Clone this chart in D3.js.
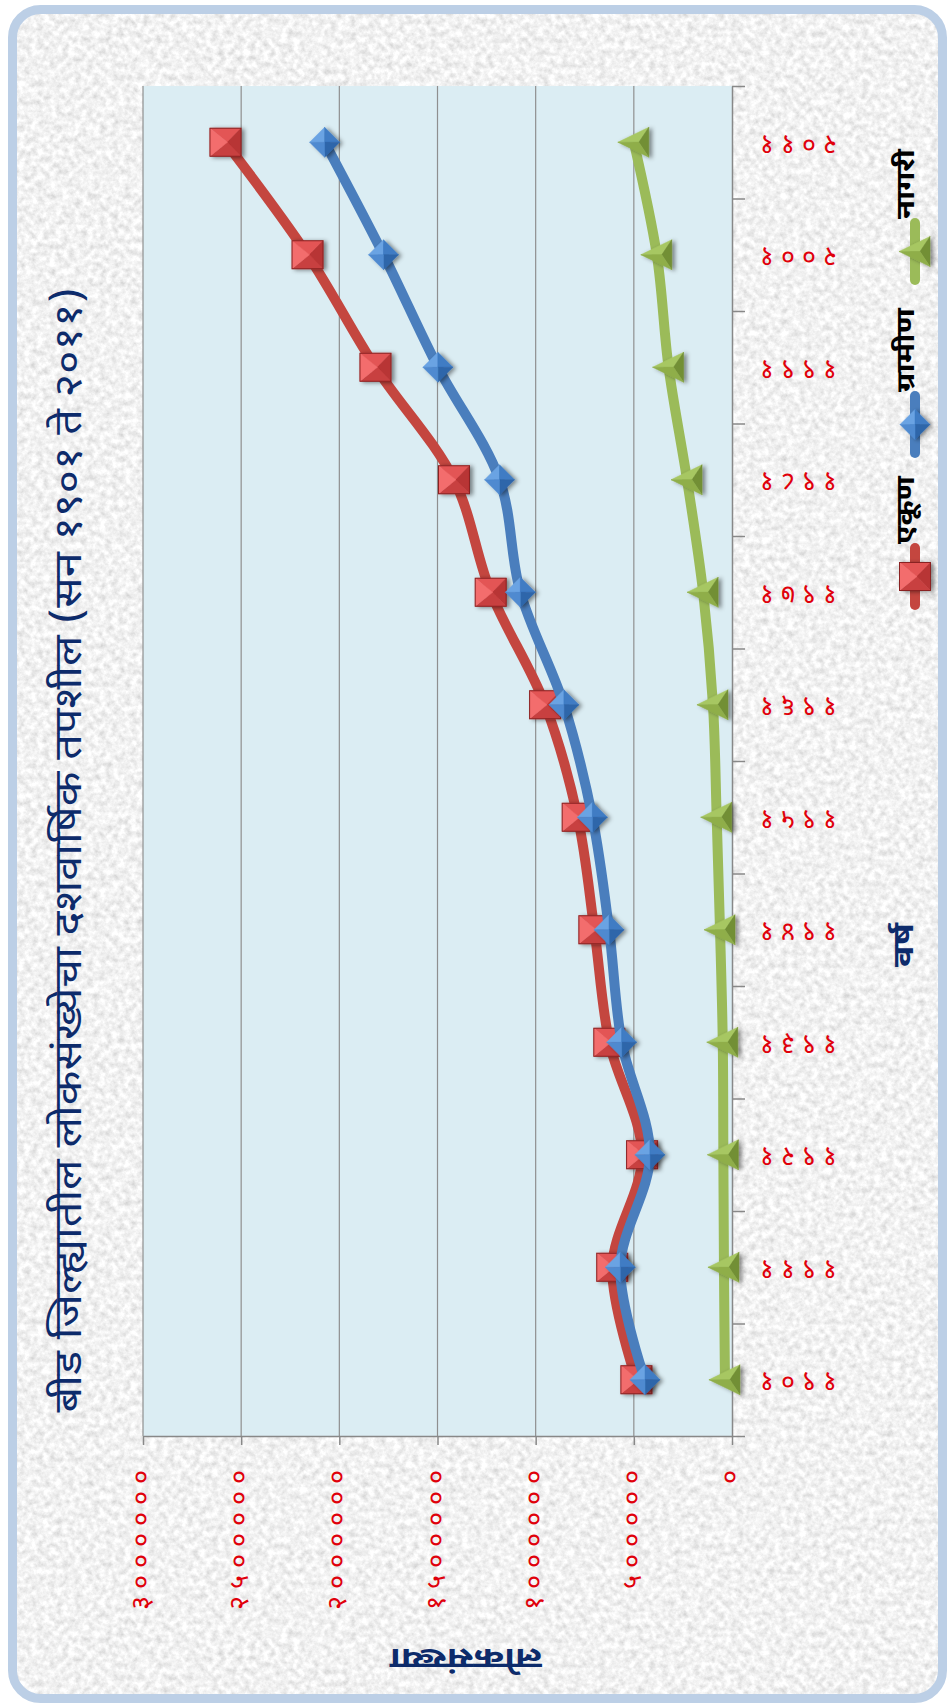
<!DOCTYPE html>
<html>
<head>
<meta charset="utf-8">
<script src="https://cdn.jsdelivr.net/npm/d3@7"></script>
<style>
  body { margin: 0; background: #fff; }
  svg { display: block; }
  text { font-family: "Noto Sans Devanagari", "Lohit Devanagari", "Mangal", "FreeSans", "Noto Sans", sans-serif; }
</style>
</head>
<body>
<div id="chart"></div>
<script>
// census years (Devanagari digits), bottom to top in the picture
const years = ["१९०१", "१९११", "१९२१", "१९३१", "१९४१", "१९५१", "१९६१", "१९७१", "१९८१", "१९९१", "२००१", "२०११"];
// population series
const total = [487000, 610000, 458000, 625000, 701000, 786000, 952000, 1229000, 1416000, 1816000, 2162000, 2580000];
const rural = [443000, 569000, 418000, 562000, 626000, 711000, 856000, 1078000, 1184000, 1498000, 1775000, 2075000];
const urban = [36000, 41000, 44000, 47000, 61000, 78000, 97000, 147000, 229000, 323000, 383000, 500000];
const seriesNames = ["एकूण", "ग्रामीण", "नागरी"];
const valueTicks = [0, 500000, 1000000, 1500000, 2000000, 2500000, 3000000];
const tickLabels = ["०", "५०००००", "१००००००", "१५०००००", "२००००००", "२५०००००", "३००००००"];

const W = 949, H = 1704;
// the chart is turned a quarter turn: values run right to left, years bottom to top
const plot = { left: 143, right: 732, top: 86, bottom: 1436 };
const digitStep = 21; // spaced-out digits in the tick labels

const svg = d3.select("#chart").append("svg")
  .attr("width", W)
  .attr("height", H);

const defs = svg.append("defs");

// grey stone texture for the chart area
const granite = defs.append("filter").attr("id", "granite")
  .attr("x", 0).attr("y", 0).attr("width", 1).attr("height", 1);
granite.append("feTurbulence")
  .attr("type", "fractalNoise")
  .attr("baseFrequency", 0.16)
  .attr("numOctaves", 4)
  .attr("seed", 7)
  .attr("result", "noise");
granite.append("feColorMatrix")
  .attr("in", "noise")
  .attr("type", "matrix")
  .attr("values", "0.55 0 0 0 0.61  0.55 0 0 0 0.61  0.55 0 0 0 0.61  0 0 0 0 1")
  .attr("result", "grey");
granite.append("feComposite")
  .attr("in", "grey").attr("in2", "SourceGraphic").attr("operator", "in");

const shadow = defs.append("filter").attr("id", "shadow")
  .attr("x", -0.5).attr("y", -0.5).attr("width", 2).attr("height", 2);
shadow.append("feDropShadow")
  .attr("dx", 3).attr("dy", 1).attr("stdDeviation", 2)
  .attr("flood-color", "#000").attr("flood-opacity", 0.45);

// background and frame
svg.append("rect")
  .attr("x", 12.5).attr("y", 9.5)
  .attr("width", 930).attr("height", 1689)
  .attr("rx", 28)
  .attr("fill", "#ddd")
  .attr("filter", "url(#granite)");
svg.append("rect")
  .attr("x", 12.5).attr("y", 9.5)
  .attr("width", 930).attr("height", 1689)
  .attr("rx", 28)
  .attr("fill", "none")
  .attr("stroke", "#bccfe6")
  .attr("stroke-width", 9);

// plot area
svg.append("rect")
  .attr("x", plot.left).attr("y", plot.top)
  .attr("width", plot.right - plot.left)
  .attr("height", plot.bottom - plot.top)
  .attr("fill", "#dbedf3");

// scales
const x = d3.scaleLinear()
  .domain([0, 3000000])
  .range([plot.right, plot.left]);

const y = d3.scaleBand()
  .domain(years)
  .range([plot.bottom, plot.top]);

const yMid = d => y(d) + y.bandwidth() / 2;

// gridlines
svg.append("g")
  .selectAll("line")
  .data(valueTicks.filter(d => d > 0))
  .enter().append("line")
  .attr("x1", d => x(d)).attr("x2", d => x(d))
  .attr("y1", plot.top).attr("y2", plot.bottom)
  .attr("stroke", "#8f8f8f")
  .attr("stroke-width", 1.2);

// space digits so every character takes digitStep px; returns the trailing gap
function spaceDigits(t) {
  const n = t.text().length;
  t.attr("letter-spacing", 0);
  const len = t.node().getComputedTextLength();
  const s = Math.max(0, (digitStep * n - len) / n);
  t.attr("letter-spacing", s);
  return s;
}

// value axis along the bottom
const xAxis = svg.append("g")
  .attr("transform", `translate(0,${plot.bottom})`)
  .call(d3.axisBottom(x)
    .tickValues(valueTicks)
    .tickSize(9)
    .tickSizeOuter(0)
    .tickFormat((d, i) => tickLabels[i]));
xAxis.select(".domain").attr("stroke", "#888").attr("stroke-width", 1.5);
xAxis.selectAll(".tick line").attr("stroke", "#888").attr("stroke-width", 1.5);
xAxis.selectAll(".tick text")
  .attr("x", 0).attr("y", 0).attr("dy", null)
  .attr("text-anchor", "end")
  .attr("dominant-baseline", "central")
  .attr("fill", "#e0000b")
  .attr("font-size", 27)
  .each(function () {
    const t = d3.select(this);
    const s = spaceDigits(t);
    t.attr("transform", `translate(0,${34 - s}) rotate(-90)`);
  });

// category axis along the right edge, ticks between the bands
const edges = d3.scaleLinear().domain([0, years.length]).range([plot.bottom, plot.top]);
const yTicks = svg.append("g")
  .attr("transform", `translate(${plot.right},0)`)
  .call(d3.axisRight(edges).ticks(years.length).tickSize(13).tickSizeOuter(0).tickFormat(""));
yTicks.select(".domain").attr("stroke", "#888").attr("stroke-width", 1.5);
yTicks.selectAll(".tick line").attr("stroke", "#888").attr("stroke-width", 1.5);

const yAxis = svg.append("g")
  .attr("transform", `translate(${plot.right},0)`)
  .call(d3.axisRight(y).tickSize(0));
yAxis.select(".domain").remove();
yAxis.selectAll(".tick text")
  .attr("x", 0).attr("dy", null)
  .attr("text-anchor", "end")
  .attr("dominant-baseline", "central")
  .attr("fill", "#e0000b")
  .attr("font-size", 27)
  .each(function () {
    const t = d3.select(this);
    const s = spaceDigits(t);
    t.attr("transform", `translate(${28 - s},0) rotate(180)`);
  });

// marker shapes made of shaded faces so they look bevelled
function squareFaces(cx, cy) {
  const a = 15.5, b = 14;
  const tl = [cx - a, cy - b], tr = [cx + a, cy - b], br = [cx + a, cy + b], bl = [cx - a, cy + b], c = [cx + 2, cy];
  return [
    { p: [tl, tr, c], f: "#e35555" },
    { p: [tr, br, c], f: "#b83434" },
    { p: [br, bl, c], f: "#c84040" },
    { p: [bl, tl, c], f: "#f36d6d" }
  ];
}
function diamondFaces(cx, cy) {
  const r = 15;
  const t = [cx, cy - r], rt = [cx + r, cy], b = [cx, cy + r], l = [cx - r, cy], c = [cx, cy];
  return [
    { p: [l, t, c], f: "#6aa3e3" },
    { p: [t, rt, c], f: "#3f7cc4" },
    { p: [rt, b, c], f: "#2e66aa" },
    { p: [b, l, c], f: "#4f8ad0" }
  ];
}
function triangleFaces(cx, cy) {
  const tip = [cx - 16, cy], tr = [cx + 15, cy - 15], br = [cx + 15, cy + 15], c = [cx + 5, cy];
  return [
    { p: [tip, tr, c], f: "#a7c762" },
    { p: [tr, br, c], f: "#728f34" },
    { p: [br, tip, c], f: "#8fae4a" }
  ];
}

const series = [
  { name: seriesNames[0], values: total, color: "#c4463f", edge: "#8a2323", faces: squareFaces },
  { name: seriesNames[1], values: rural, color: "#4a7ebd", edge: null, faces: diamondFaces },
  { name: seriesNames[2], values: urban, color: "#9bbb59", edge: null, faces: triangleFaces }
];

const line = d3.line()
  .x(d => x(d.v))
  .y(d => yMid(d.year))
  .curve(d3.curveCatmullRom.alpha(0.5));

function drawMarker(g, s, cx, cy) {
  const m = g.append("g").attr("filter", "url(#shadow)");
  m.selectAll("path")
    .data(s.faces(cx, cy))
    .enter().append("path")
    .attr("d", d => "M" + d.p.map(q => q.join(",")).join("L") + "Z")
    .attr("fill", d => d.f)
    .attr("stroke", d => d.f)
    .attr("stroke-width", 0.5);
  if (s.edge) {
    const pts = s.faces(cx, cy);
    const xs = pts.flatMap(d => d.p.map(q => q[0])), ys = pts.flatMap(d => d.p.map(q => q[1]));
    m.append("rect")
      .attr("x", d3.min(xs)).attr("y", d3.min(ys))
      .attr("width", d3.max(xs) - d3.min(xs)).attr("height", d3.max(ys) - d3.min(ys))
      .attr("fill", "none").attr("stroke", s.edge).attr("stroke-width", 1);
  }
}

series.forEach(s => {
  const pts = years.map((year, i) => ({ year, v: s.values[i] }));
  const g = svg.append("g");
  g.append("path")
    .datum(pts)
    .attr("d", line)
    .attr("fill", "none")
    .attr("stroke", s.color)
    .attr("stroke-width", 10)
    .attr("stroke-linejoin", "round");
  pts.forEach(d => drawMarker(g, s, x(d.v), yMid(d.year)));
});

// stretch a rotated label along its reading direction to a given length
function addText(tx, ty, angle, size, len, anchor, fill, weight, str) {
  const t = svg.append("text")
    .attr("text-anchor", anchor)
    .attr("dominant-baseline", "central")
    .attr("font-size", size)
    .attr("font-weight", weight)
    .attr("fill", fill)
    .text(str);
  const k = len / t.node().getComputedTextLength();
  t.attr("transform", `translate(${tx},${ty}) rotate(${angle}) scale(${k},1)`);
  return t;
}

// legend on the right, read bottom to top
const legendBottoms = [605, 453, 280];
const legendLens = [68, 84, 70];
series.forEach((s, i) => {
  const b = legendBottoms[i];
  const g = svg.append("g");
  g.append("line")
    .attr("x1", 915).attr("x2", 915)
    .attr("y1", b).attr("y2", b - 57)
    .attr("stroke", s.color)
    .attr("stroke-width", 10)
    .attr("stroke-linecap", "round");
  drawMarker(g, s, 915, b - 28.5);
  addText(908, b - 61, -90, 25, legendLens[i], "start", "#000", "bold", s.name);
});

// title
addText(72, 850, -90, 38, 1125, "middle", "#0d2b6b", "normal",
  "बीड जिल्ह्यातील लोकसंख्येचा दशवार्षिक तपशील (सन १९०१ ते २०११)");

// axis titles
addText(466, 1656, 180, 28, 152, "middle", "#0d2b6b", "bold", "लोकसंख्या");
addText(906, 945, -90, 28, 44, "middle", "#0d2b6b", "bold", "वर्ष");
</script>
</body>
</html>
